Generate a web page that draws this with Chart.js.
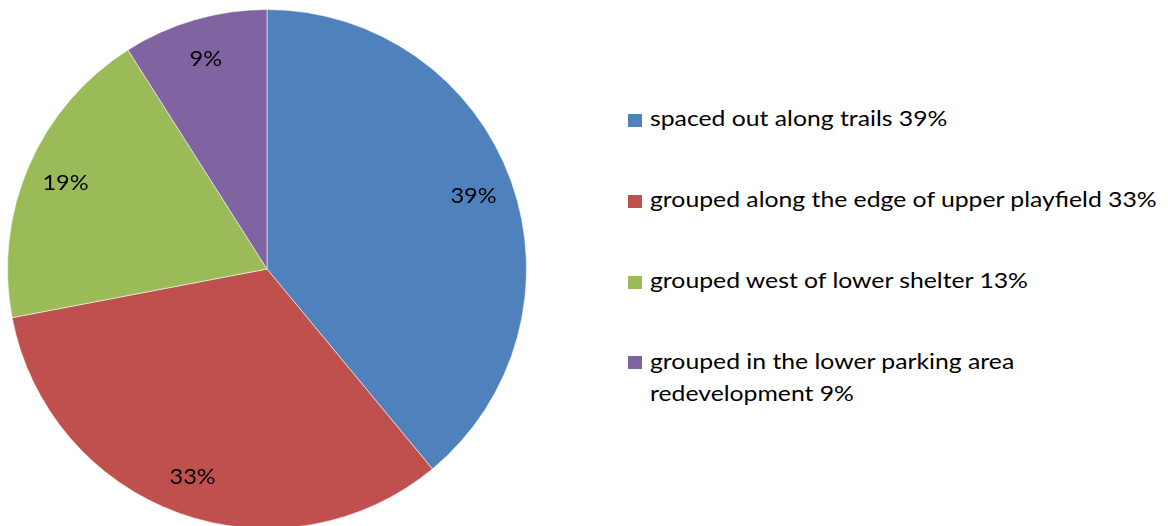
<!DOCTYPE html>
<html>
<head>
<meta charset="utf-8">
<script src="https://cdn.jsdelivr.net/npm/chart.js@4"></script>
<style>
    html, body { margin: 0; padding: 0; background: #fff; overflow: hidden; }
    body { width: 1168px; height: 526px; position: relative; font-family: Lato, sans-serif; }
    #pie-wrap { position: absolute; left: 0; top: 0; width: 534px; height: 538px; }
    #legend { position: absolute; left: 628px; top: 102.3px; margin: 0; padding: 0; list-style: none; }
    #legend li { position: relative; padding-left: 22px; font-size: 22px; line-height: 32.4px; color: #000; margin-bottom: 48.4px; white-space: nowrap; }
    #legend .txt { display: inline-block; transform: scaleX(1.125); transform-origin: 0 0; }
    #legend .box { position: absolute; left: 0; top: 11.7px; width: 14px; height: 13px; }
</style>
</head>
<body>
<div id="pie-wrap"><canvas id="pieChart"></canvas></div>
<ul id="legend"></ul>
<script>
// Datos
const categories = [
    'spaced out along trails',
    'grouped along the edge of upper playfield',
    'grouped west of lower shelter',
    'grouped in the lower parking area redevelopment'
];
const values = [39, 33, 19, 9];
const sliceLabels = ['39%', '33%', '19%', '9%'];
const legendLines = [
    ['spaced out along trails 39%'],
    ['grouped along the edge of upper playfield 33%'],
    ['grouped west of lower shelter 13%'],
    ['grouped in the lower parking area', 'redevelopment 9%']
];
const colors = ['#4F81BD', '#C0504D', '#9BBB59', '#8064A2'];

// Etiquetas dentro de cada sector
const sliceLabelPlugin = {
    id: 'sliceLabels',
    afterDatasetsDraw(chart) {
        const ctx = chart.ctx;
        const meta = chart.getDatasetMeta(0);
        meta.data.forEach((arc, i) => {
            const p = arc.getProps(['x', 'y', 'startAngle', 'endAngle', 'outerRadius'], true);
            const mid = (p.startAngle + p.endAngle) / 2;
            const r = p.outerRadius - 40;
            ctx.save();
            ctx.translate(p.x + Math.cos(mid) * r, p.y + Math.sin(mid) * r);
            ctx.scale(1.07, 1);
            ctx.font = '22px Lato, sans-serif';
            ctx.fillStyle = '#000';
            ctx.textAlign = 'center';
            ctx.textBaseline = 'alphabetic';
            ctx.fillText(sliceLabels[i], 0, 8);
            ctx.restore();
        });
    }
};

const pieCtx = document.getElementById('pieChart').getContext('2d');
const pieChart = new Chart(pieCtx, {
    type: 'pie',
    data: {
        labels: categories,
        datasets: [{
            data: values,
            backgroundColor: colors,
            borderColor: 'rgba(255, 255, 255, 0.55)',
            borderWidth: 1
        }]
    },
    options: {
        responsive: true,
        maintainAspectRatio: false,
        animation: false,
        layout: { padding: { left: 7, right: 7, top: 9, bottom: 9 } },
        plugins: {
            legend: { display: false },
            tooltip: { enabled: false }
        }
    },
    plugins: [sliceLabelPlugin]
});

// Leyenda
const legend = document.getElementById('legend');
legendLines.forEach((lines, i) => {
    const li = document.createElement('li');
    const box = document.createElement('span');
    box.className = 'box';
    box.style.background = colors[i];
    li.appendChild(box);
    const txt = document.createElement('span');
    txt.className = 'txt';
    lines.forEach((line, j) => {
        if (j > 0) txt.appendChild(document.createElement('br'));
        txt.appendChild(document.createTextNode(line));
    });
    li.appendChild(txt);
    legend.appendChild(li);
});
</script>
</body>
</html>
